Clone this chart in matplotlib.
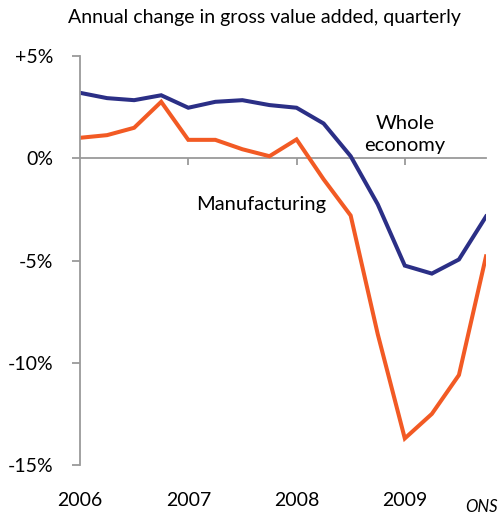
import numpy as np
import matplotlib.pyplot as plt

plt.rcParams['font.family'] = ['Lato', 'DejaVu Sans']

# Annual % change in gross value added, 2006 Q1 - 2009 Q4
quarters = np.arange(16)
whole_economy = [3.2, 2.94, 2.84, 3.08, 2.47, 2.76, 2.84, 2.6,
                 2.47, 1.7, 0.1, -2.25, -5.25, -5.64, -4.95, -2.85]
manufacturing = [1.0, 1.13, 1.49, 2.76, 0.9, 0.9, 0.44, 0.1,
                 0.92, -1.03, -2.8, -8.6, -13.7, -12.5, -10.6, -4.8]
years = ['2006', '2007', '2008', '2009']
year_pos = [0, 4, 8, 12]
yticks = [5, 0, -5, -10, -15]
ytick_labels = ['+5%', '0%', '-5%', '-10%', '-15%']

W, H = 503, 515
fig = plt.figure(figsize=(W / 100, H / 100), dpi=100)
ax = fig.add_axes([80 / W, (H - 465) / H, (486 - 80) / W, (465 - 56) / H])

grey = '#9a9a9a'
ax.plot(quarters, whole_economy, color='#2B2F86', lw=2.9, solid_joinstyle='miter')
ax.plot(quarters, manufacturing, color='#F25A24', lw=2.9, solid_joinstyle='miter')

ax.set_xlim(0, 15)
ax.set_ylim(-15, 5)
for s in ['top', 'right']:
    ax.spines[s].set_visible(False)
ax.spines['left'].set_color(grey)
ax.spines['left'].set_linewidth(1.3)
ax.spines['bottom'].set_position(('data', 0))
ax.spines['bottom'].set_color(grey)
ax.spines['bottom'].set_linewidth(1.3)
ax.spines['bottom'].set_zorder(0)

ax.set_yticks(yticks)
ax.set_yticklabels(ytick_labels)
ax.tick_params(axis='y', length=6, width=1.3, color=grey, pad=13, labelsize=14)
ax.set_xticks(year_pos[1:])
ax.set_xticklabels([])
ax.tick_params(axis='x', length=5, width=1.3, color=grey, direction='out')

for pos, lab in zip(year_pos, years):
    ax.text(pos, -16.75, lab, ha='center', va='center', fontsize=14)

ax.text(12.0, 0.2, 'Whole\neconomy', ha='center', va='bottom', fontsize=14.5,
        linespacing=1.4)
ax.text(4.3, -2.25, 'Manufacturing', ha='left', va='center', fontsize=14.5)

fig.text(264 / W, 1 - 18 / H, 'Annual change in gross value added, quarterly',
         ha='center', va='center', fontsize=14)
fig.text(481 / W, 1 - 507 / H, 'ONS', ha='center', va='center', fontsize=12,
         style='italic')

fig.savefig('out.png', dpi=100)
